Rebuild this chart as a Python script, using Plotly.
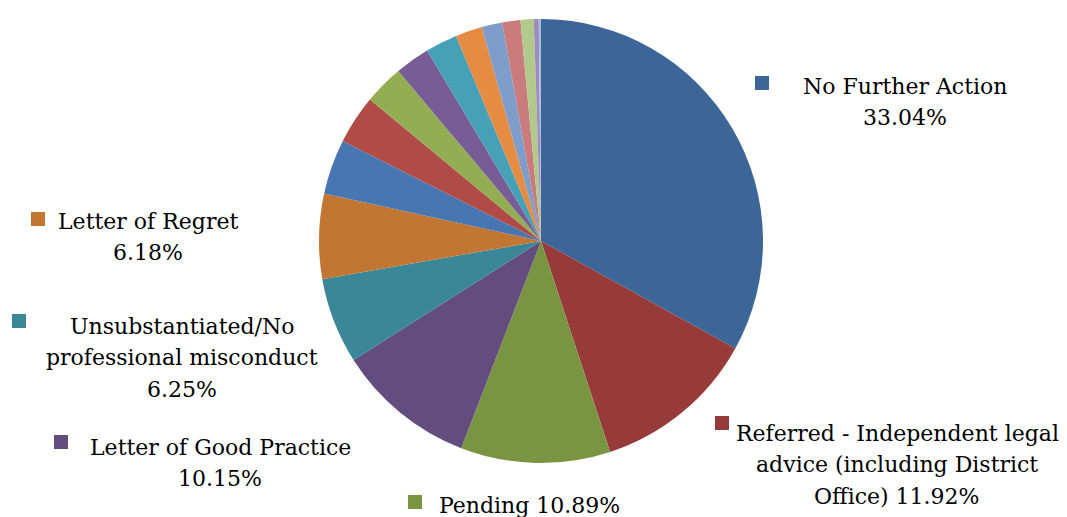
"""Pie chart of complaint outcomes with Excel-style keyed data labels."""
import plotly.graph_objects as go

W, H = 1067, 517
OFF = 8  # page body margin, pushes the whole figure right/down

CATEGORIES = [
    "No Further Action",
    "Referred - Independent legal advice (including District Office)",
    "Pending",
    "Letter of Good Practice",
    "Unsubstantiated/No professional misconduct",
    "Letter of Regret",
    "Other 1", "Other 2", "Other 3", "Other 4", "Other 5", "Other 6",
    "Other 7", "Other 8", "Other 9", "Other 10", "Other 11",
]
VALUES = [
    33.04, 11.92, 10.89, 10.15, 6.25, 6.18,
    4.00, 3.56, 2.90, 2.53, 2.33, 1.95, 1.50, 1.32, 0.96, 0.36, 0.16,
]
COLORS = [
    "#3d6698", "#963b3a", "#7a9542", "#634c7e", "#3a8798", "#c27634",
    "#4876b0", "#b14b48", "#93ad53", "#775c96", "#46a0b7", "#e58c42",
    "#7f9dca", "#c97c7b", "#b1ca8b", "#9d8cbd", "#a9bdd8",
]
# label lines for the first six slices; "{}" takes the percentage
LABEL_LINES = [
    ["No Further Action", "{}"],
    ["Referred - Independent legal", "advice (including District", "Office) {}"],
    ["Pending {}"],
    ["Letter of Good Practice", "{}"],
    ["Unsubstantiated/No", "professional misconduct", "{}"],
    ["Letter of Regret", "{}"],
]

# placement (screen pixels): text centre x, first line y, key square centre, anchor
LABEL_POS = [
    dict(x=905, y=86, key=(762, 83), anchor="center"),
    dict(x=897, y=433, key=(722, 423), anchor="center"),
    dict(x=437, y=505, key=(415, 502), anchor="left"),
    dict(x=220, y=447, key=(61, 442), anchor="center"),
    dict(x=182, y=326, key=(19, 321), anchor="center"),
    dict(x=148, y=221, key=(38, 219), anchor="center"),
]
LINE_GAP = 31.5
KEY = 14
FONT = "DejaVu Serif"
FONT_SIZE = 22

cx, cy, r = 541 - OFF, 241 - OFF, 222


def px(x):
    return (x - OFF) / W


def py(y):
    return 1 - (y - OFF) / H


fig = go.Figure()
fig.add_trace(go.Pie(
    labels=CATEGORIES,
    values=VALUES,
    sort=False,
    direction="clockwise",
    rotation=0,
    textinfo="none",
    marker=dict(colors=COLORS, line=dict(width=0)),
    domain=dict(x=[(cx - r) / W, (cx + r) / W], y=[1 - (cy + r) / H, 1 - (cy - r) / H]),
    showlegend=False,
    hovertemplate="%{label}: %{value:.2f}%<extra></extra>",
))

annotations = []
shapes = []
for i, (lines, pos) in enumerate(zip(LABEL_LINES, LABEL_POS)):
    pct = f"{VALUES[i]:.2f}%"
    for j, line in enumerate(lines):
        annotations.append(dict(
            x=px(pos["x"]), y=py(pos["y"] + j * LINE_GAP),
            xref="paper", yref="paper",
            text=line.format(pct),
            showarrow=False,
            xanchor=pos["anchor"], yanchor="middle",
            font=dict(family=FONT, size=FONT_SIZE, color="#000000"),
        ))
    kx, ky = pos["key"]
    shapes.append(dict(
        type="rect", xref="paper", yref="paper",
        x0=px(kx - KEY / 2), x1=px(kx + KEY / 2),
        y0=py(ky + KEY / 2), y1=py(ky - KEY / 2),
        fillcolor=COLORS[i], line=dict(width=0),
    ))

fig.update_layout(
    width=W,
    height=H,
    margin=dict(l=0, r=0, t=0, b=0),
    paper_bgcolor="#ffffff",
    plot_bgcolor="#ffffff",
    annotations=annotations,
    shapes=shapes,
)

fig.write_html("out.html")
